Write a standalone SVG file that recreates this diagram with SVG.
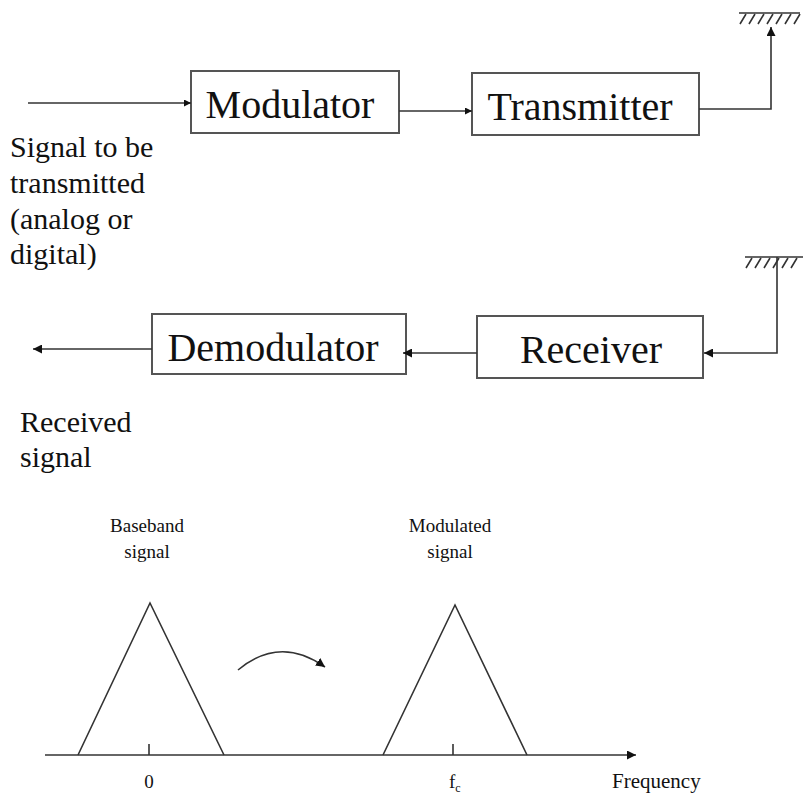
<svg xmlns="http://www.w3.org/2000/svg" width="803" height="796" viewBox="0 0 803 796">
<defs>
<style>
.box{fill:#fff;stroke:#555;stroke-width:2}
.ln{fill:none;stroke:#333;stroke-width:1.6}
.lbl{font-family:"Liberation Serif","Times New Roman",serif;fill:#111}
.big{font-size:40px}
.mid{font-size:30px}
.sm{font-size:19px}
</style>
<marker id="ah" viewBox="0 0 10 10" refX="10" refY="5" markerWidth="7" markerHeight="7" orient="auto" markerUnits="userSpaceOnUse">
<path d="M0,0 L10,5 L0,10 z" fill="#111"/>
</marker>
<marker id="ah2" viewBox="0 0 10 10" refX="10" refY="5" markerWidth="9" markerHeight="9" orient="auto" markerUnits="userSpaceOnUse">
<path d="M0,0 L10,5 L0,10 z" fill="#111"/>
</marker>
</defs>
<rect width="803" height="796" fill="#fff"/>

<g id="modulator">
<rect class="box" x="191" y="71" width="208" height="62"/>
<text class="lbl big" x="290" y="118" text-anchor="middle">Modulator</text>
</g>
<g id="transmitter">
<rect class="box" x="472" y="73" width="227" height="62"/>
<text class="lbl big" x="580" y="120" text-anchor="middle">Transmitter</text>
</g>
<g id="demodulator">
<rect class="box" x="152" y="314" width="254" height="60"/>
<text class="lbl big" x="273" y="361" text-anchor="middle">Demodulator</text>
</g>
<g id="receiver">
<rect class="box" x="477" y="316" width="226" height="62"/>
<text class="lbl big" x="591" y="363" text-anchor="middle">Receiver</text>
</g>

<g id="antenna-tx">
<line class="ln" x1="739" y1="13" x2="800" y2="13"/>
<path class="ln" d="M740,24 L746,14 M749,24 L755,14 M758,24 L764,14 M767,24 L773,14 M776,24 L782,14 M785,24 L791,14 M794,24 L800,14"/>
</g>
<g id="antenna-rx">
<line class="ln" x1="745" y1="257" x2="803" y2="257"/>
<path class="ln" d="M746,268 L752,258 M755,268 L761,258 M764,268 L770,258 M773,268 L779,258 M782,268 L788,258 M791,268 L797,258"/>
</g>

<g id="connectors">
<line class="ln" x1="28" y1="103" x2="191" y2="103" marker-end="url(#ah)"/>
<line class="ln" x1="399" y1="111" x2="472" y2="111" marker-end="url(#ah)"/>
<polyline class="ln" points="699,109 771,109 771,27" marker-end="url(#ah2)"/>
<polyline class="ln" points="777,257 777,353 704,353" marker-end="url(#ah2)"/>
<line class="ln" x1="477" y1="353" x2="403" y2="353" marker-end="url(#ah2)"/>
<line class="ln" x1="152" y1="349" x2="33" y2="349" marker-end="url(#ah2)"/>
</g>

<g id="labels">
<text class="lbl mid" x="10" y="157">Signal to be</text>
<text class="lbl mid" x="10" y="193">transmitted</text>
<text class="lbl mid" x="10" y="229">(analog or</text>
<text class="lbl mid" x="10" y="264">digital)</text>
<text class="lbl mid" x="20" y="432">Received</text>
<text class="lbl mid" x="20" y="467">signal</text>
</g>

<g id="spectrum">
<line class="ln" x1="45" y1="755" x2="636" y2="755" marker-end="url(#ah2)"/>
<polyline class="ln" points="78,755 150,603 224,755"/>
<polyline class="ln" points="383,755 455,605 527,755"/>
<line class="ln" x1="149" y1="744" x2="149" y2="755"/>
<line class="ln" x1="453" y1="744" x2="453" y2="755"/>
<path class="ln" d="M238,670 Q280,635 325,667" marker-end="url(#ah2)"/>
<text class="lbl sm" x="147" y="532" text-anchor="middle">Baseband</text>
<text class="lbl sm" x="147" y="558" text-anchor="middle">signal</text>
<text class="lbl sm" x="450" y="532" text-anchor="middle">Modulated</text>
<text class="lbl sm" x="450" y="558" text-anchor="middle">signal</text>
<text class="lbl sm" x="149" y="788" text-anchor="middle">0</text>
<text class="lbl sm" x="449" y="788">f<tspan font-size="12" dy="4">c</tspan></text>
<text class="lbl sm" x="612" y="788" style="font-size:21px">Frequency</text>
</g>
</svg>
